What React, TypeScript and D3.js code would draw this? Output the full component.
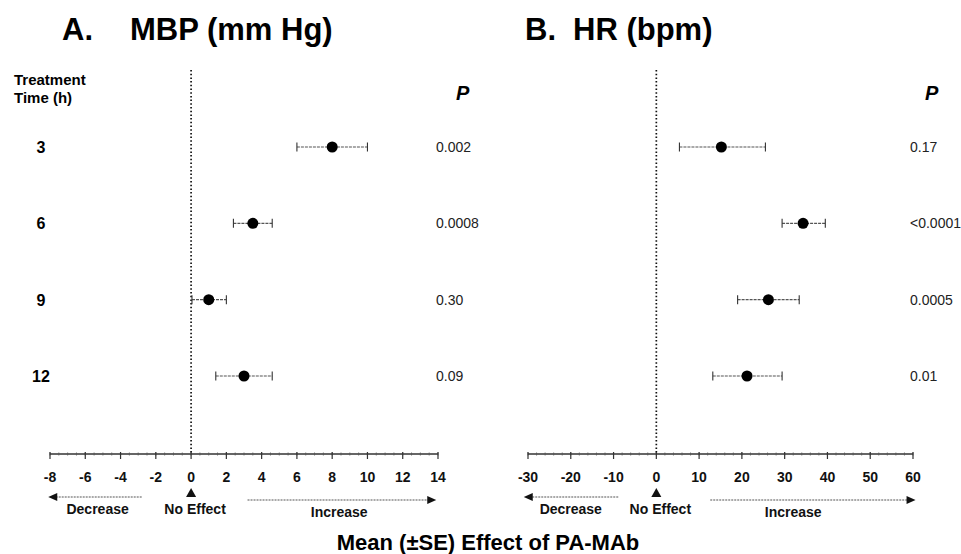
import { useEffect, useRef } from 'react';
import * as d3 from 'd3';

// Forest-style plot: effect of PA-MAb on MBP and HR at each treatment time
const times = ['3', '6', '9', '12'];

const mbpMean = [8.0, 3.5, 1.0, 3.0];
const mbpLow = [6.0, 2.4, 0.05, 1.4];
const mbpHigh = [10.0, 4.6, 2.0, 4.6];
const mbpP = ['0.002', '0.0008', '0.30', '0.09'];
const mbpTicks = [-8, -6, -4, -2, 0, 2, 4, 6, 8, 10, 12, 14];

const hrMean = [15.2, 34.3, 26.2, 21.2];
const hrLow = [5.4, 29.4, 19.0, 13.2];
const hrHigh = [25.5, 39.5, 33.4, 29.4];
const hrP = ['0.17', '<0.0001', '0.0005', '0.01'];
const hrTicks = [-30, -20, -10, 0, 10, 20, 30, 40, 50, 60];

const FONT = "'Liberation Sans', Arial, sans-serif";

export default function App() {
  const svgRef = useRef<SVGSVGElement | null>(null);

  useEffect(() => {
    if (!svgRef.current) return;
    const svg = d3.select(svgRef.current);
    svg.selectAll('*').remove();

    const y = d3.scalePoint<string>().domain(times).range([147, 376]);
    const axisY = 454;
    const topY = 70;

    const drawPanel = (opts: {
      x: d3.ScaleLinear<number, number>;
      ticks: number[];
      minorStep: number;
      mean: number[];
      low: number[];
      high: number[];
      pvals: string[];
      pX: number;
      headX: number;
      letter: string;
      letterX: number;
      title: string;
      titleX: number;
      decr: [number, number];
      incr: [number, number];
      decrLab: number;
      incrLab: number;
    }) => {
      const { x } = opts;
      const g = svg.append('g');

      // Panel title
      g.append('text')
        .attr('x', opts.letterX).attr('y', 40)
        .attr('font-family', FONT).attr('font-weight', 'bold').attr('font-size', '31px')
        .text(opts.letter);
      g.append('text')
        .attr('x', opts.titleX).attr('y', 40)
        .attr('font-family', FONT).attr('font-weight', 'bold').attr('font-size', '31px')
        .text(opts.title);

      // P header
      g.append('text')
        .attr('x', opts.headX).attr('y', 100)
        .attr('font-family', FONT).attr('font-weight', 'bold').attr('font-style', 'italic')
        .attr('font-size', '20px')
        .text('P');

      // No-effect dotted line
      g.append('line')
        .attr('x1', x(0)).attr('x2', x(0))
        .attr('y1', topY).attr('y2', axisY)
        .attr('stroke', '#111').attr('stroke-width', 1.7)
        .attr('stroke-dasharray', '1.5,2.2');

      // X axis with minor ticks
      const [d0, d1] = x.domain();
      g.append('line')
        .attr('x1', x(d0)).attr('x2', x(d1))
        .attr('y1', axisY).attr('y2', axisY)
        .attr('stroke', '#333').attr('stroke-width', 1.3);
      g.selectAll('.minor')
        .data(d3.range(d0, d1 + 1e-9, opts.minorStep))
        .join('line')
        .attr('x1', d => x(d)).attr('x2', d => x(d))
        .attr('y1', axisY - 1.5).attr('y2', axisY + 1.5)
        .attr('stroke', '#555').attr('stroke-width', 0.8);
      g.selectAll('.major')
        .data(opts.ticks)
        .join('line')
        .attr('x1', d => x(d)).attr('x2', d => x(d))
        .attr('y1', axisY - 2).attr('y2', axisY + 5)
        .attr('stroke', '#333').attr('stroke-width', 1.2);
      g.selectAll('.tlabel')
        .data(opts.ticks)
        .join('text')
        .attr('x', d => x(d)).attr('y', 482)
        .attr('text-anchor', 'middle')
        .attr('font-family', FONT).attr('font-weight', 'bold').attr('font-size', '14px')
        .attr('fill', '#111')
        .text(d => String(d));

      // Direction arrows
      const arrow = (a: number, b: number, yy: number) => {
        const xa = x(a);
        const xb = x(b);
        const dir = xb > xa ? 1 : -1;
        g.append('line')
          .attr('x1', xa).attr('x2', xb - dir * 6)
          .attr('y1', yy).attr('y2', yy)
          .attr('stroke', '#555').attr('stroke-width', 1.1)
          .attr('stroke-dasharray', '2,1');
        g.append('path')
          .attr('d', `M${xb},${yy} L${xb - dir * 9},${yy - 4} L${xb - dir * 9},${yy + 4} Z`)
          .attr('fill', '#111');
      };
      arrow(opts.decr[0], opts.decr[1], 497);
      arrow(opts.incr[0], opts.incr[1], 500);

      // No effect marker
      const x0 = x(0);
      g.append('path')
        .attr('d', `M${x0},${488} L${x0 - 5},${497} L${x0 + 5},${497} Z`)
        .attr('fill', '#111');

      const lab = (t: string, cx: number, yy: number) =>
        g.append('text')
          .attr('x', cx).attr('y', yy)
          .attr('text-anchor', 'middle')
          .attr('font-family', FONT).attr('font-weight', 'bold').attr('font-size', '14px')
          .attr('fill', '#111')
          .text(t);
      lab('Decrease', x(opts.decrLab), 514);
      lab('No Effect', x0 + 4, 514);
      lab('Increase', x(opts.incrLab), 517);

      // Error bars
      const rows = times.map((t, i) => ({
        t, mean: opts.mean[i], low: opts.low[i], high: opts.high[i], p: opts.pvals[i],
      }));
      g.selectAll('.err')
        .data(rows)
        .join('line')
        .attr('x1', d => x(d.low)).attr('x2', d => x(d.high))
        .attr('y1', d => y(d.t)!).attr('y2', d => y(d.t)!)
        .attr('stroke', '#555').attr('stroke-width', 1.1)
        .attr('stroke-dasharray', '3,1');
      ['low', 'high'].forEach(k => {
        g.selectAll(`.cap-${k}`)
          .data(rows)
          .join('line')
          .attr('x1', d => x((d as any)[k])).attr('x2', d => x((d as any)[k]))
          .attr('y1', d => y(d.t)! - 4.5).attr('y2', d => y(d.t)! + 4.5)
          .attr('stroke', '#333').attr('stroke-width', 1.1);
      });
      g.selectAll('.pt')
        .data(rows)
        .join('circle')
        .attr('cx', d => x(d.mean)).attr('cy', d => y(d.t)!)
        .attr('r', 5.5)
        .attr('fill', '#000');

      // P values
      g.selectAll('.pv')
        .data(rows)
        .join('text')
        .attr('x', opts.pX).attr('y', d => y(d.t)! + 5)
        .attr('font-family', FONT).attr('font-size', '14px')
        .attr('fill', '#222')
        .text(d => d.p);
    };

    drawPanel({
      x: d3.scaleLinear().domain([-8, 14]).range([50, 438]),
      ticks: mbpTicks,
      minorStep: 0.5,
      mean: mbpMean, low: mbpLow, high: mbpHigh, pvals: mbpP,
      pX: 436, headX: 456,
      letter: 'A.', letterX: 62,
      title: 'MBP (mm Hg)', titleX: 130,
      decr: [-2.8, -8.1],
      incr: [3.2, 13.9],
      decrLab: -5.3, incrLab: 8.4,
    });

    drawPanel({
      x: d3.scaleLinear().domain([-30, 60]).range([528, 913]),
      ticks: hrTicks,
      minorStep: 2,
      mean: hrMean, low: hrLow, high: hrHigh, pvals: hrP,
      pX: 910, headX: 925,
      letter: 'B.', letterX: 525,
      title: 'HR (bpm)', titleX: 573,
      decr: [-8.9, -31],
      incr: [12.6, 60.6],
      decrLab: -20, incrLab: 32,
    });

    // Row labels
    const rowG = svg.append('g');
    rowG.append('text')
      .attr('x', 14).attr('y', 85)
      .attr('font-family', FONT).attr('font-weight', 'bold').attr('font-size', '15px')
      .text('Treatment');
    rowG.append('text')
      .attr('x', 14).attr('y', 103)
      .attr('font-family', FONT).attr('font-weight', 'bold').attr('font-size', '15px')
      .text('Time (h)');
    rowG.selectAll('.rl')
      .data(times)
      .join('text')
      .attr('x', 41).attr('y', d => y(d)! + 6)
      .attr('text-anchor', 'middle')
      .attr('font-family', FONT).attr('font-weight', 'bold').attr('font-size', '16px')
      .text(d => d);

    // Shared x label
    svg.append('text')
      .attr('x', 488).attr('y', 550)
      .attr('text-anchor', 'middle')
      .attr('font-family', FONT).attr('font-weight', 'bold').attr('font-size', '22px')
      .text('Mean (\u00B1SE) Effect of PA-MAb');
  }, []);

  return (
    <svg
      ref={svgRef}
      width={961}
      height={554}
      style={{ position: 'absolute', left: 0, top: 0, background: '#fff', display: 'block' }}
    />
  );
}
